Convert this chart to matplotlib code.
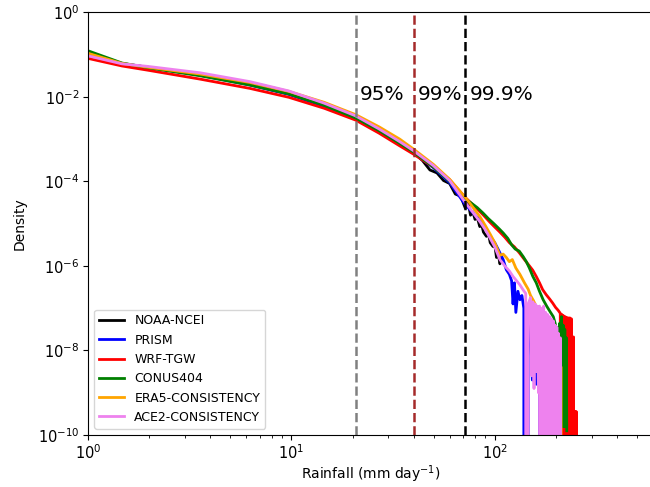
import numpy as np
import matplotlib
matplotlib.use("Agg")
import matplotlib.pyplot as plt
from matplotlib.ticker import NullLocator, FixedLocator

Z = float("-inf")  # empty bin (density 0)

# ---------------- data (x in mm/day, values are log10 density) ----------------
x_body = [1.0, 1.47, 1.97, 3.55, 6.25, 9.7, 14.5, 20.7, 27, 34.1, 40, 50, 60, 71.6]

noaa_body = [-1.02, -1.22, -1.30, -1.48, -1.71, -1.93, -2.21, -2.50, -2.80, -3.10, -3.33]
noaa_x_tail = [44, 48, 52, 56, 60, 64, 68, 71.6, 74, 76, 78, 80, 82, 84.4, 86, 88, 91, 93, 95,
               98, 100, 102, 104, 106, 108]
noaa_tail = [-3.50, -3.73, -3.80, -3.98, -4.05, -4.30, -4.35, -4.63, -4.50, -4.80, -4.72, -4.90,
             -4.85, -5.07, -5.00, -5.20, -5.30, -5.22, -5.45, -5.54, -5.50, -5.80, -5.70, -5.95, -5.85]

prism_body = [-1.00, -1.21, -1.30, -1.49, -1.72, -1.94, -2.22, -2.52, -2.82, -3.11, -3.33, -3.68, -4.03, -4.55]
prism_x_tail = [75, 80, 85, 90, 95, 100, 105, 110, 114, 118, 121, 123, 125, 127, 130, 133, 136, 139,
                140, 142, 144, 146, 150, 153, 156, 160, 163, 166, 168, 170, 171]
prism_tail = [-4.65, -4.80, -4.95, -5.10, -5.30, -5.45, -5.65, -5.85, -6.09, -6.20, -6.35, -6.90,
              -6.40, -7.10, -6.60, -6.80, -6.70, -7.00, Z, -7.20, Z, -7.40, -7.60, -8.70, -7.80,
              -8.80, -8.00, -8.90, Z, -8.60, Z]

wrf_body = [-1.09, -1.27, -1.37, -1.58, -1.80, -2.01, -2.27, -2.55, -2.86, -3.16, -3.36, -3.66, -3.96, -4.38]
wrf_x_tail = [76, 82, 88, 94, 100, 106, 112, 118, 125, 132.6, 140, 147, 153.7, 160, 166, 172, 179,
              186, 192.8, 199, 205, 210, 212, 214, 216, 218, 220, 222, 224, 226, 228, 230, 232, 234,
              236, 238, 239, 240, 241, 242, 243, 244, 245, 246, 247, 248, 249, 250, 251, 252, 253]
wrf_tail = [-4.50, -4.65, -4.80, -4.95, -5.08, -5.20, -5.32, -5.45, -5.55, -5.70, -5.85, -5.98,
            -6.10, -6.25, -6.40, -6.56, -6.68, -6.78, -6.88, -6.98, -7.05, -7.12, Z, -7.15, Z,
            -7.18, Z, -7.20, Z, -7.22, Z, -7.23, Z, -7.23, Z, -7.25, Z, -7.68, Z, -7.70, Z, -7.68,
            Z, -9.45, Z, -9.45, Z, -9.45, Z, -9.45, Z]

conus_body = [-0.91, -1.20, -1.31, -1.50, -1.72, -1.93, -2.20, -2.50, -2.80, -3.10, -3.31, -3.66, -4.00, -4.42]
conus_x_tail = [76, 82, 87.6, 93, 99, 105, 110, 116, 121, 126, 132, 138, 143, 148, 154, 160, 166,
                173, 180, 187, 194, 198, 201, 203, 205, 207, 209, 211, 213, 215, 217, 219, 221, 223,
                225, 226]
conus_tail = [-4.50, -4.62, -4.75, -4.88, -5.00, -5.12, -5.22, -5.35, -5.50, -5.60, -5.65, -5.78,
              -5.90, -6.05, -6.25, -6.40, -6.60, -6.80, -6.95, -7.08, -7.20, -7.35, -7.50, -9.80,
              -7.45, -9.80, -7.35, -9.80, -7.20, -9.80, -7.40, -9.80, -7.50, -9.80, -7.70, -9.90]

era5_body = [-0.97, -1.21, -1.30, -1.46, -1.66, -1.87, -2.13, -2.42, -2.71, -3.00, -3.24, -3.60, -3.95, -4.38]
era5_x_tail = [75, 80, 85, 90, 95, 100, 106, 110, 114, 118, 122, 127, 133, 140, 146, 150, 155, 160,
               165, 170, 175, 179, 180, 181, 186, 192, 198, 203, 206, 207, 208, 212, 213]
era5_tail = [-4.50, -4.68, -4.85, -5.05, -5.25, -5.45, -5.75, -5.72, -5.80, -5.90, -5.85, -6.05,
             -6.20, -6.40, -6.55, -6.70, -6.82, -6.96, -7.10, -7.25, -7.45, -7.60, Z, -7.60, -7.70,
             -7.80, -7.95, -8.10, -8.20, Z, -8.30, -8.40, Z]

ace2_body = [-1.03, -1.22, -1.28, -1.43, -1.64, -1.86, -2.15, -2.45, -2.76, -3.06, -3.28, -3.63, -3.98, -4.50]
ace2_x_tail = [75, 80, 85, 90, 95, 100, 106, 112, 118, 123, 128, 133, 138, 142, 144, 146, 150, 152,
               154, 156, 158, 160, 162, 164, 166, 168, 170, 172, 174, 176, 178, 180, 182, 184, 186,
               188, 190, 192, 194, 196, 198, 200, 202, 204, 206, 208, 210, 212]
ace2_tail = [-4.62, -4.80, -4.97, -5.15, -5.35, -5.55, -5.85, -6.00, -6.12, -6.25, -6.35, -6.45,
             -6.57, -6.65, Z, -6.90, -6.75, -8.60, -6.85, -8.90, -6.90, -8.50, -6.95, -9.00, -6.95,
             Z, -7.00, Z, -6.95, Z, -7.10, Z, -7.15, Z, -7.20, Z, -7.25, Z, -7.30, Z, -7.40, Z,
             -7.45, Z, -7.60, Z, -7.70, Z]

percentile_x = [20.7, 40.0, 71.6]
percentile_labels = ["95%", "99%", "99.9%"]
percentile_colors = ["gray", "brown", "black"]

y_ticks = [1e-10, 1e-8, 1e-6, 1e-4, 1e-2, 1e0]

series = [
    ("NOAA-NCEI", "black", x_body[:11] + noaa_x_tail, noaa_body + noaa_tail),
    ("PRISM", "blue", x_body + prism_x_tail, prism_body + prism_tail),
    ("WRF-TGW", "red", x_body + wrf_x_tail, wrf_body + wrf_tail),
    ("CONUS404", "green", x_body + conus_x_tail, conus_body + conus_tail),
    ("ERA5-CONSISTENCY", "orange", x_body + era5_x_tail, era5_body + era5_tail),
    ("ACE2-CONSISTENCY", "violet", x_body + ace2_x_tail, ace2_body + ace2_tail),
]

# ---------------- plot ----------------
fig = plt.figure(figsize=(6.5, 4.87), dpi=100)
ax = fig.add_axes([88 / 650, 1 - 435 / 487, 565 / 650, (435 - 12.3) / 487])

for name, color, xs, ly in series:
    ax.plot(xs, np.power(10.0, np.array(ly, dtype=float)), color=color, lw=2, label=name)

ax.set_xscale("log")
ax.set_yscale("log", nonpositive="clip")
ax.set_xlim(1, 600)
ax.set_ylim(1e-10, 1)
ax.yaxis.set_major_locator(FixedLocator(y_ticks))
ax.yaxis.set_minor_locator(NullLocator())

for xv, lab, c in zip(percentile_x, percentile_labels, percentile_colors):
    ax.axvline(xv, color=c, ls="--", lw=1.8)
    ax.text(xv * 1.05, 1.15e-2, lab, fontsize=14.5, va="center", ha="left")

ax.tick_params(labelsize=10.5, pad=2.5)
ax.set_xlabel("Rainfall (mm day$^{-1}$)", fontsize=10, labelpad=1)
ax.set_ylabel("Density", fontsize=10, labelpad=8)
ax.legend(loc="lower left", fontsize=9)

fig.savefig("out.png", dpi=100)
